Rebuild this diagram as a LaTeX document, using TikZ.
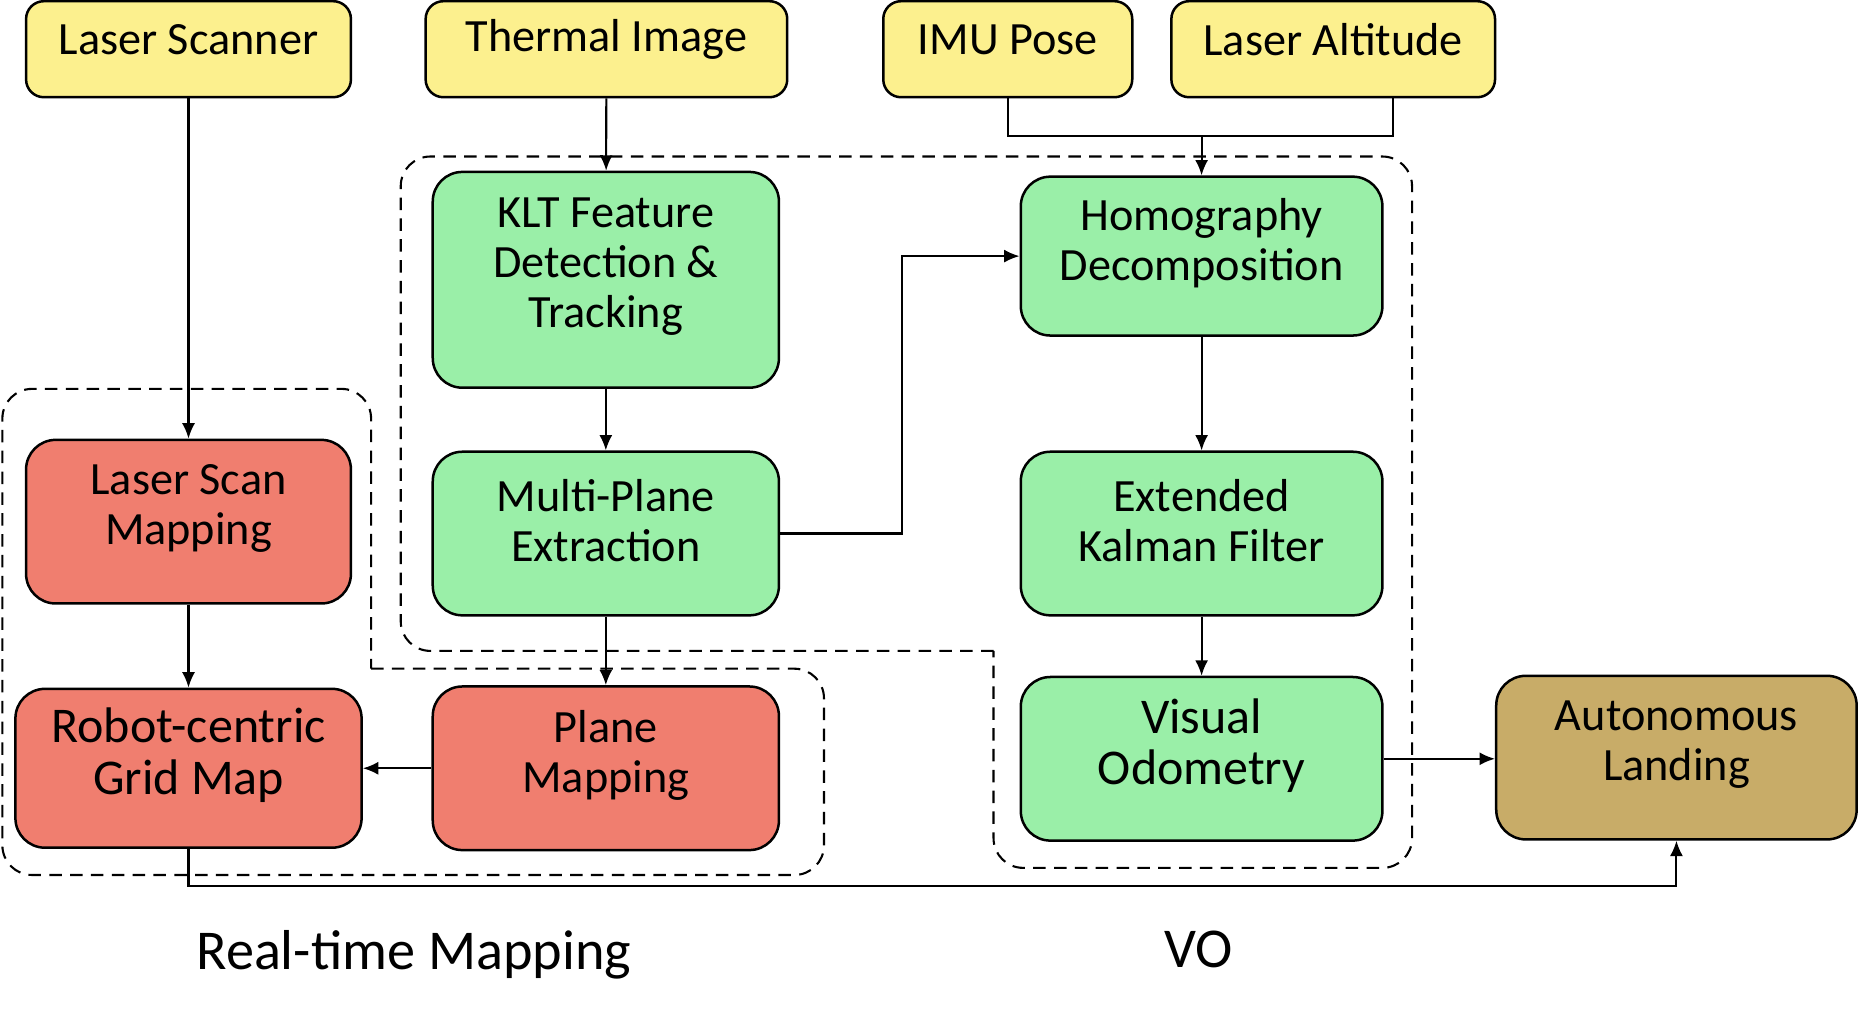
\documentclass[tikz,border=0pt]{standalone}
\usepackage{fontspec}
\setmainfont{Carlito}
\usetikzlibrary{arrows.meta}

\definecolor{inputyellow}{HTML}{FCF08E}
\definecolor{vogreen}{HTML}{9AEFA8}
\definecolor{mapred}{HTML}{F07E6F}
\definecolor{landtan}{HTML}{C8AC68}

\begin{document}
\begin{tikzpicture}[
        box/.style={draw, line width=0.6pt, rounded corners=0.25cm, inner sep=0pt},
        inbox/.style={box, fill=inputyellow, rounded corners=0.15cm, minimum height=0.81cm},
        gbox/.style={box, fill=vogreen},
        rbox/.style={box, fill=mapred},
        txt/.style={align=center, font=\fontsize{11.1}{12}\selectfont, yshift=0.11cm},
        bigtxt/.style={txt, font=\fontsize{12}{12.3}\selectfont},
        link/.style={line width=0.5pt},
        arrow/.style={link, -{Latex[length=1.3mm,width=1.1mm]}},
        region/.style={line width=0.5pt, dash pattern=on 3pt off 2pt, rounded corners=0.25cm}
    ]
    \useasboundingbox (0,0) rectangle (15.68,-8.54);

    % Dashed regions
    \draw[region] (8.38,-5.49) -- (3.38,-5.49) -- (3.38,-1.32) -- (11.91,-1.32) -- (11.91,-7.32) -- (8.38,-7.32) -- (8.38,-5.49);
    \draw[region] (3.13,-5.64) -- (6.95,-5.64) -- (6.95,-7.38) -- (0.02,-7.38) -- (0.02,-3.28) -- (3.13,-3.28) -- (3.13,-5.64);

    % Inputs
    \node[inbox, minimum width=2.74cm, label={[txt, yshift=-0.03cm, name=scanner-t]center:Laser Scanner}] (scanner) at (1.59,-0.415) {};
    \node[inbox, minimum width=3.05cm, label={[txt, yshift=-0.03cm, name=thermal-t]center:Thermal Image}] (thermal) at (5.115,-0.415) {};
    \node[inbox, minimum width=2.10cm, label={[txt, yshift=-0.03cm, name=imu-t]center:IMU Pose}] (imu) at (8.50,-0.415) {};
    \node[inbox, minimum width=2.73cm, label={[txt, yshift=-0.03cm, name=altitude-t]center:Laser Altitude}] (altitude) at (11.245,-0.415) {};

    % Visual odometry
    \node[gbox, minimum width=2.92cm, minimum height=1.82cm, label={[txt, name=klt-t]center:KLT Feature\\Detection \&\\Tracking}] (klt) at (5.11,-2.36) {};
    \node[gbox, minimum width=2.92cm, minimum height=1.38cm, label={[txt, name=mpe-t]center:Multi-Plane\\Extraction}] (mpe) at (5.11,-4.50) {};
    \node[gbox, minimum width=3.05cm, minimum height=1.34cm, label={[txt, name=homog-t]center:Homography\\Decomposition}] (homog) at (10.135,-2.16) {};
    \node[gbox, minimum width=3.05cm, minimum height=1.38cm, label={[txt, name=ekf-t]center:Extended\\Kalman Filter}] (ekf) at (10.135,-4.50) {};
    \node[gbox, minimum width=3.05cm, minimum height=1.38cm, label={[bigtxt, name=vo-t]center:Visual\\Odometry}] (vo) at (10.135,-6.40) {};
    \node[box, fill=landtan, minimum width=3.04cm, minimum height=1.38cm, label={[txt, name=landing-t]center:Autonomous\\Landing}] (landing) at (14.14,-6.39) {};

    % Mapping
    \node[rbox, minimum width=2.74cm, minimum height=1.38cm, label={[txt, name=lsm-t]center:Laser Scan\\Mapping}] (lsm) at (1.59,-4.40) {};
    \node[rbox, minimum width=2.92cm, minimum height=1.34cm, label={[bigtxt, name=grid-t]center:Robot-centric\\Grid Map}] (grid) at (1.59,-6.48) {};
    \node[rbox, minimum width=2.92cm, minimum height=1.38cm, label={[txt, name=planemap-t]center:Plane\\Mapping}] (planemap) at (5.11,-6.48) {};

    % Connectors
    \coordinate (join) at (10.135,-1.15);
    \draw[arrow] (scanner) -- (lsm);
    \draw[arrow] (thermal) -- (klt);
    \draw[link] (imu) |- (join);
    \draw[link] ([xshift=0.505cm]altitude.south) |- (join);
    \draw[arrow] (join) -- (homog);
    \draw[arrow] (klt) -- (mpe);
    \draw[arrow] (mpe.east) -- ++(1.03,0) |- (homog.west);
    \draw[arrow] (mpe) -- (planemap);
    \draw[arrow] (planemap) -- (grid);
    \draw[arrow] (lsm) -- (grid);
    \draw[arrow] (homog) -- (ekf);
    \draw[arrow] (ekf) -- (vo);
    \draw[arrow] (vo.east) -- (vo.east -| landing.west);
    \draw[arrow] (grid.south) -- ++(0,-0.31) -| (landing.south);

    % Region titles
    \node[font=\fontsize{13.5}{15}\selectfont] (mapping-title) at (3.49,-8.05) {Real-time Mapping};
    \node[font=\fontsize{13.5}{15}\selectfont] (vo-title) at (10.11,-8.01) {VO};
\end{tikzpicture}
\end{document}
